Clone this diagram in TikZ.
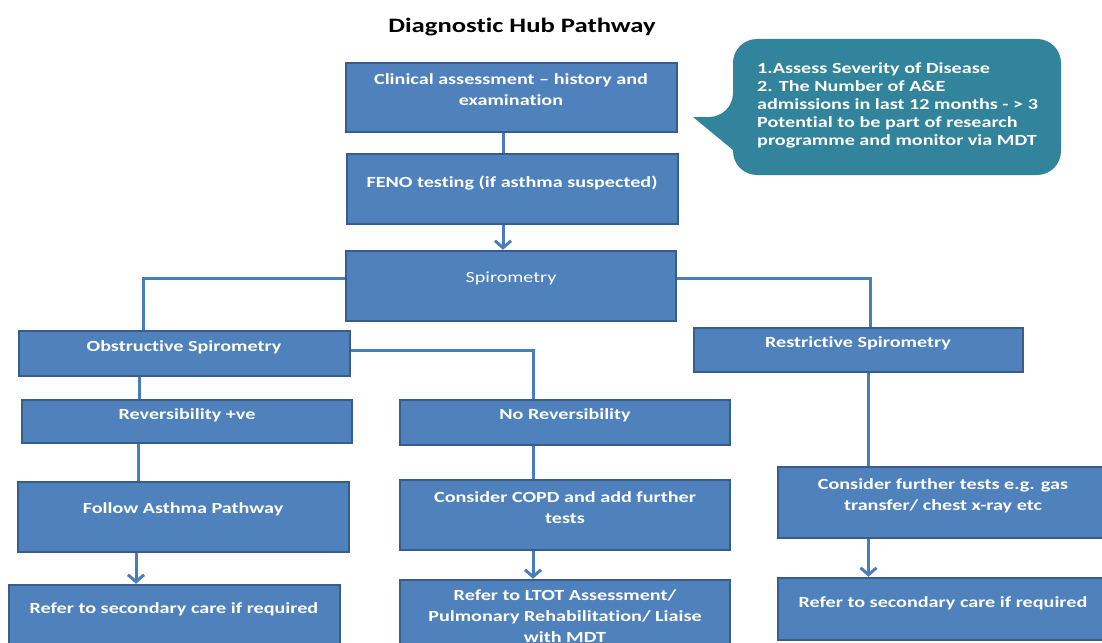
\documentclass[tikz,border=0pt]{standalone}
\usepackage{fontspec}
\setmainfont{Carlito}[FakeStretch=1.3, Ligatures={TeX,NoCommon}]
\usetikzlibrary{arrows.meta,fit}
\definecolor{boxfill}{HTML}{4F81BD}
\definecolor{boxline}{HTML}{385D8A}
\definecolor{connc}{HTML}{4A7EBB}
\definecolor{callc}{HTML}{31849B}
\tikzset{
  box/.style={draw=boxline, fill=boxfill, line width=2.5pt, inner sep=0pt},
  txt/.style={text=white, font=\fontsize{15.5}{21}\selectfont\bfseries, align=center, inner sep=0pt},
  conn/.style={draw=connc, line width=3pt},
  arr/.style={conn, -{Straight Barb[length=7pt,width=16pt,line width=3pt]}},
}
\begin{document}
\begin{tikzpicture}[x=1pt,y=-1pt]
\useasboundingbox (0,0) rectangle (1102,642);
\clip (0,0) rectangle (1102,642);
\fill[white] (0,0) rectangle (1102,642);

\node[font=\fontsize{20.5}{24}\selectfont\bfseries, inner sep=0pt] (title) at (522,27) {Diagnostic Hub Pathway};

% callout
\fill[callc, rounded corners=24pt] (733,117) [sharp corners] -- (693,117) -- (733,150) [rounded corners=24pt] -- (733,175) -- (1061,175) -- (1061,39) -- (733,39) -- cycle;
\node[text=white, font=\fontsize{15.5}{18.2}\selectfont\bfseries, align=left, anchor=north west, inner sep=0pt] (callT) at (757,62) {1.Assess Severity of Disease\\2. The Number of A\&E\\admissions in last 12 months - > 3\\Potential to be part of research\\programme and monitor via MDT};

% boxes
\node[box, fit={(346,63) (677,132)}] (clin) {};
\node[box, fit={(347,154) (678,224)}] (feno) {};
\node[box, fit={(346,251) (676,321)}] (spiro) {};
\node[box, fit={(19,331) (350,376)}] (obs) {};
\node[box, fit={(694,328) (1023,372)}] (restr) {};
\node[box, fit={(22,400) (352,443)}] (rev) {};
\node[box, fit={(400,400) (730,445)}] (norev) {};
\node[box, fit={(18,482) (349,552)}] (asth) {};
\node[box, fit={(400,480) (730,550)}] (copd) {};
\node[box, fit={(9,585) (340,660)}] (ref1) {};
\node[box, fit={(400,580) (730,660)}] (ltot) {};
\node[box, fit={(778,467) (1115,538)}] (furth) {};
\node[box, fit={(778,578) (1115,640)}] (ref2) {};

% texts
\node[txt] (clinT) at (511,89.5) {Clinical assessment – history and\\examination};
\node[txt] (fenoT) at (512,183) {FENO testing (if asthma suspected)};
\node[txt, font=\fontsize{15.5}{21}\selectfont] (spiroT) at (511,278) {Spirometry};
\node[txt] (obsT) at (184,347) {Obstructive Spirometry};
\node[txt] (restrT) at (858,343) {Restrictive Spirometry};
\node[txt] (revT) at (187,415) {Reversibility +ve};
\node[txt] (norevT) at (565,415) {No Reversibility};
\node[txt] (asthT) at (183,509) {Follow Asthma Pathway};
\node[txt] (copdT) at (565,507.5) {Consider COPD and add further\\tests};
\node[txt] (ref1T) at (174,609) {Refer to secondary care if required};
\node[txt] (ltotT) at (565,616) {Refer to LTOT Assessment/\\Pulmonary Rehabilitation/ Liaise\\with MDT};
\node[txt] (furthT) at (943,495.5) {Consider further tests e.g. gas\\transfer/ chest x-ray etc};
\node[txt] (ref2T) at (943,603) {Refer to secondary care if required};

% connectors
\draw[conn] ([xshift=-8.5pt]clin.south) -- ([xshift=-8.5pt]clin.south |- feno.north);
\draw[arr] ([xshift=-9.5pt]feno.south) -- ([xshift=-9.5pt]feno.south |- spiro.north);
\draw[conn] ([yshift=8pt]spiro.west) -| ([xshift=-41.5pt]obs.north);
\draw[conn] ([yshift=8pt]spiro.east) -| ([xshift=11.5pt]restr.north);
\draw[conn] ([yshift=3.5pt]obs.east) -| ([xshift=-32pt]norev.north);
\draw[conn] ([xshift=-45.5pt]obs.south) -- ([xshift=-45.5pt]obs.south |- rev.north);
\draw[conn] ([xshift=-49pt]rev.south) -- ([xshift=-49pt]rev.south |- asth.north);
\draw[arr] ([xshift=-47.5pt]asth.south) -- ([xshift=-47.5pt]asth.south |- ref1.north);
\draw[conn] ([xshift=-32pt]norev.south) -- ([xshift=-32pt]norev.south |- copd.north);
\draw[arr] ([xshift=-32pt]copd.south) -- ([xshift=-32pt]copd.south |- ltot.north);
\draw[conn] ([xshift=9.5pt]restr.south) -- ([xshift=9.5pt]restr.south |- furth.north);
\draw[arr] ([xshift=-78pt]furth.south) -- ([xshift=-78pt]furth.south |- ref2.north);
\end{tikzpicture}
\end{document}
